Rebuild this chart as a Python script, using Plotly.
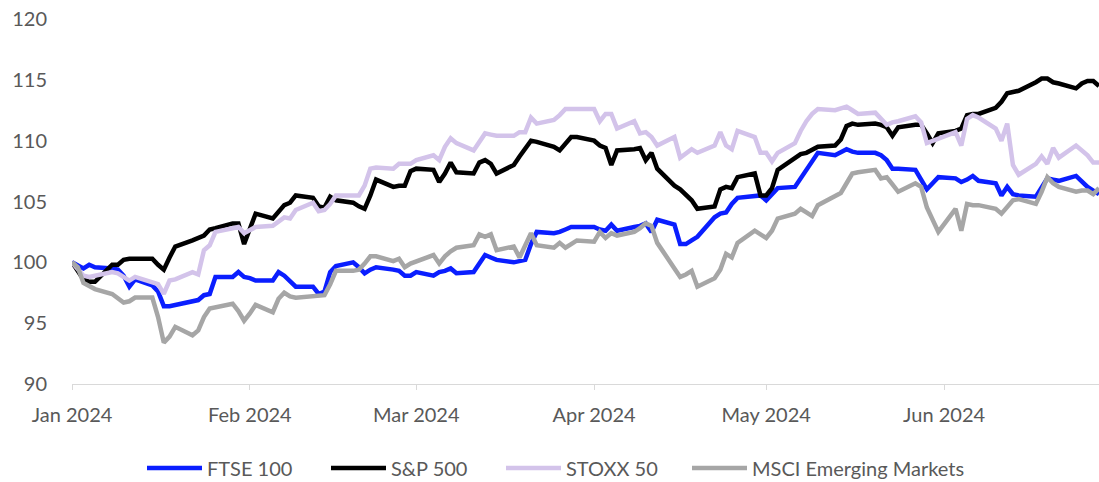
import pandas as pd
import plotly.graph_objects as go

# Trading days (weekdays) Jan 1 - Jun 28 2024
dates = pd.bdate_range("2024-01-01", "2024-06-28")

ftse = [
    100.0, 99.7, 99.5, 99.8, 99.6,
    99.5, 99.4, 98.9, 98.0, 98.6,
    98.1, 97.6, 96.4, 96.4, 96.5,
    96.8, 96.9, 97.3, 97.4, 98.8,
    98.8, 99.2, 98.8,
    98.7, 98.5,
    98.5, 99.2, 98.9, 98.4, 98.0,
    98.0, 97.4, 97.6, 99.2, 99.7,
    100.0, 99.6, 99.1, 99.4, 99.6,
    99.4, 99.3, 98.9, 98.9,
    99.2,
    98.9, 99.2, 99.3, 99.5, 99.1,
    99.2, 99.9, 100.6, 100.4, 100.2,
    100.0, 100.1, 100.2, 101.5, 102.5,
    102.4, 102.5, 102.7, 102.9, 102.9,
    102.9, 102.7, 102.6, 103.1, 102.6,
    102.9, 103.0, 103.2, 102.5, 103.5,
    103.1, 101.5, 101.5, 101.8, 102.1,
    103.7, 104.0, 104.1, 104.8, 105.3,
    105.4, 105.5,
    105.1, 105.6, 106.1,
    106.2, 106.9, 107.7, 108.4, 109.0,
    108.8, 109.0, 109.3, 109.1, 109.0,
    109.0, 108.8, 108.4, 107.7, 107.7,
    107.6, 106.8, 106.0, 106.5, 107.0,
    106.9, 106.6, 106.8, 107.1, 106.7,
    106.5, 105.5, 106.2, 105.6, 105.5,
    105.4, 106.1, 106.9, 106.8, 106.7,
    107.1, 106.6, 106.2, 105.9, 105.6,
]

sp500 = [
    100.0, 99.3, 98.6, 98.4, 98.4,
    99.8, 99.8, 100.2, 100.3, 100.3,
    100.3, 99.8, 99.4, 100.4, 101.3,
    101.8, 102.0, 102.2, 102.7, 102.8,
    103.2, 103.2, 101.5,
    102.8, 104.0,
    103.6, 104.1, 104.7, 104.9, 105.5,
    105.3, 104.6, 104.5, 105.4, 105.1,
    104.9, 104.6, 104.4, 105.5, 106.8,
    106.2, 106.3, 106.3, 107.5,
    107.7,
    107.6, 106.6, 107.3, 108.2, 107.4,
    107.3, 108.2, 108.4, 108.1, 107.3,
    108.0, 108.7, 109.4, 110.0, 109.9,
    109.5, 109.2, 109.8, 110.3, 110.3,
    110.0, 109.6, 109.4, 108.0, 109.2,
    109.3, 109.4, 108.4, 109.0, 107.7,
    106.3, 106.0, 105.6, 105.1, 104.4,
    104.6, 106.0, 106.2, 106.1, 107.0,
    107.3, 105.5,
    105.5, 106.1, 107.6,
    108.6, 108.9, 109.0, 109.3, 109.5,
    109.6, 110.1, 111.2, 111.4, 111.3,
    111.4, 111.3, 111.1, 110.4, 111.1,
    111.3, 111.3, 110.6, 109.8, 110.6,
    110.8, 111.0, 112.1, 112.2, 112.2,
    112.7, 113.2, 113.9, 114.0, 114.1,
    114.8, 115.1, 115.1, 114.8, 114.7,
    114.3, 114.7, 114.9, 114.9, 114.5,
]

stoxx = [
    100.0, 99.4, 98.9, 98.8, 98.9,
    99.2, 99.1, 98.8, 98.5, 98.8,
    98.4, 98.2, 97.4, 98.5, 98.6,
    99.2, 99.0, 101.0, 101.4, 102.5,
    102.8, 102.9, 102.4,
    102.6, 102.9,
    103.0, 103.4, 103.7, 103.6, 104.3,
    104.9, 104.2, 104.3, 104.8, 105.5,
    105.5, 105.5, 106.3, 107.7, 107.8,
    107.7, 108.1, 108.1, 108.1,
    108.4,
    108.8, 108.4, 109.5, 110.2, 109.8,
    109.2, 109.9, 110.6, 110.5, 110.4,
    110.4, 110.7, 110.7, 111.9, 111.4,
    111.7, 112.1, 112.6, 112.6, 112.6,
    112.6, 111.6, 112.2, 112.2, 111.0,
    111.6, 110.6, 110.7, 110.3, 109.6,
    110.3, 108.6, 109.0, 109.3, 109.0,
    109.6, 110.7, 109.6, 109.3, 110.8,
    110.3, 109.0,
    109.0, 108.3, 109.0,
    109.8, 110.8, 111.6, 112.2, 112.6,
    112.5, 112.7, 112.8, 112.5, 112.2,
    112.3, 111.8, 111.3, 111.5, 111.6,
    112.0, 111.5, 109.8, 110.0, 110.1,
    110.7, 109.6, 111.8, 112.1, 111.9,
    111.0, 110.0, 111.4, 108.0, 107.2,
    108.1, 108.7, 108.1, 109.4, 108.6,
    109.6, 109.2, 108.8, 108.2, 108.2,
]

msci_em = [
    100.0, 99.6, 98.3, 98.0, 97.8,
    97.4, 97.0, 96.7, 96.8, 97.1,
    97.1, 95.5, 93.4, 93.9, 94.7,
    94.0, 94.4, 95.5, 96.2, 96.3,
    96.6, 96.0, 95.2,
    95.8, 96.5,
    95.9, 97.0, 97.5, 97.2, 97.1,
    97.2, 97.2, 97.3, 98.2, 99.3,
    99.3, 99.4, 99.9, 100.5, 100.5,
    100.1, 100.3, 99.6, 99.9,
    100.1,
    100.6, 99.9, 100.5, 100.9, 101.2,
    101.4, 102.3, 102.1, 102.3, 101.0,
    101.3, 100.4, 101.5, 102.4, 101.4,
    101.2, 101.6, 101.2, 101.5, 101.8,
    101.7, 102.5, 102.0, 102.4, 102.2,
    102.5, 102.8, 103.2, 103.0, 101.6,
    99.5, 98.8, 99.0, 99.3, 98.0,
    98.7, 99.4, 100.7, 100.4, 101.6,
    102.6, 102.3,
    102.0, 102.6, 103.6,
    104.0, 104.4, 104.1, 103.8, 104.7,
    105.4, 105.7, 106.5, 107.3, 107.4,
    107.6, 106.9, 107.0, 106.4, 105.8,
    106.5, 106.2, 104.5, 103.5, 102.5,
    104.4, 102.6, 104.8, 104.7, 104.7,
    104.4, 104.0, 104.5, 105.1, 105.2,
    104.8, 105.8, 107.0, 106.5, 106.2,
    105.8, 105.9, 105.9, 105.6, 106.1,
]

series_names = ["FTSE 100", "S&P 500", "STOXX 50", "MSCI Emerging Markets"]
series_values = [ftse, sp500, stoxx, msci_em]
series_colors = ["#0a1eff", "#000000", "#d3c3ea", "#a6a6a6"]
legend_ids = ["legend", "legend2", "legend3", "legend4"]
legend_left_px = [142, 326, 501, 687]   # left edge of each legend entry (px)

y_ticks = [90, 95, 100, 105, 110, 115, 120]

W, H = 1099, 482
FONT = "Lato, 'Open Sans', sans-serif"
TXT = "#595959"

fig = go.Figure()
for name, vals, col, lid in zip(series_names, series_values, series_colors, legend_ids):
    assert len(vals) == len(dates), (name, len(vals))
    fig.add_trace(go.Scatter(
        x=dates, y=vals, name=name, mode="lines",
        line=dict(color=col, width=4.5), legend=lid,
    ))

legends = {}
for lid, lx in zip(legend_ids, legend_left_px):
    legends[lid] = dict(
        orientation="h", xref="container", yref="container",
        x=lx / W, xanchor="left", y=1 - 468 / H, yanchor="middle",
        font=dict(family=FONT, size=20, color=TXT),
        itemwidth=55, bgcolor="rgba(0,0,0,0)",
    )

fig.update_layout(
    width=W, height=H,
    margin=dict(l=72, r=0, t=19, b=98, autoexpand=False),
    paper_bgcolor="white", plot_bgcolor="white",
    font=dict(family=FONT, size=20, color=TXT),
    showlegend=True,
    xaxis=dict(
        type="date", automargin=False,
        range=["2024-01-01", "2024-06-28"],
        tick0="2024-01-01", dtick="M1", tickformat="%b %Y",
        showgrid=False, zeroline=False,
        showline=True, linecolor="#d9d9d9", linewidth=1,
        ticks="outside", ticklen=5, tickcolor="#d9d9d9", tickwidth=1,
        ticklabelstandoff=8,
        tickfont=dict(family=FONT, size=20, color=TXT),
    ),
    yaxis=dict(
        range=[90, 120], tickvals=y_ticks, automargin=False,
        showgrid=False, zeroline=False, showline=False, ticks="",
        ticklabelstandoff=24,
        tickfont=dict(family=FONT, size=20, color=TXT),
    ),
    **legends,
)

fig.write_html(
    "out.html",
    config={"displayModeBar": False},
    post_script="document.body.style.margin='0px';document.body.style.overflow='hidden';",
)
